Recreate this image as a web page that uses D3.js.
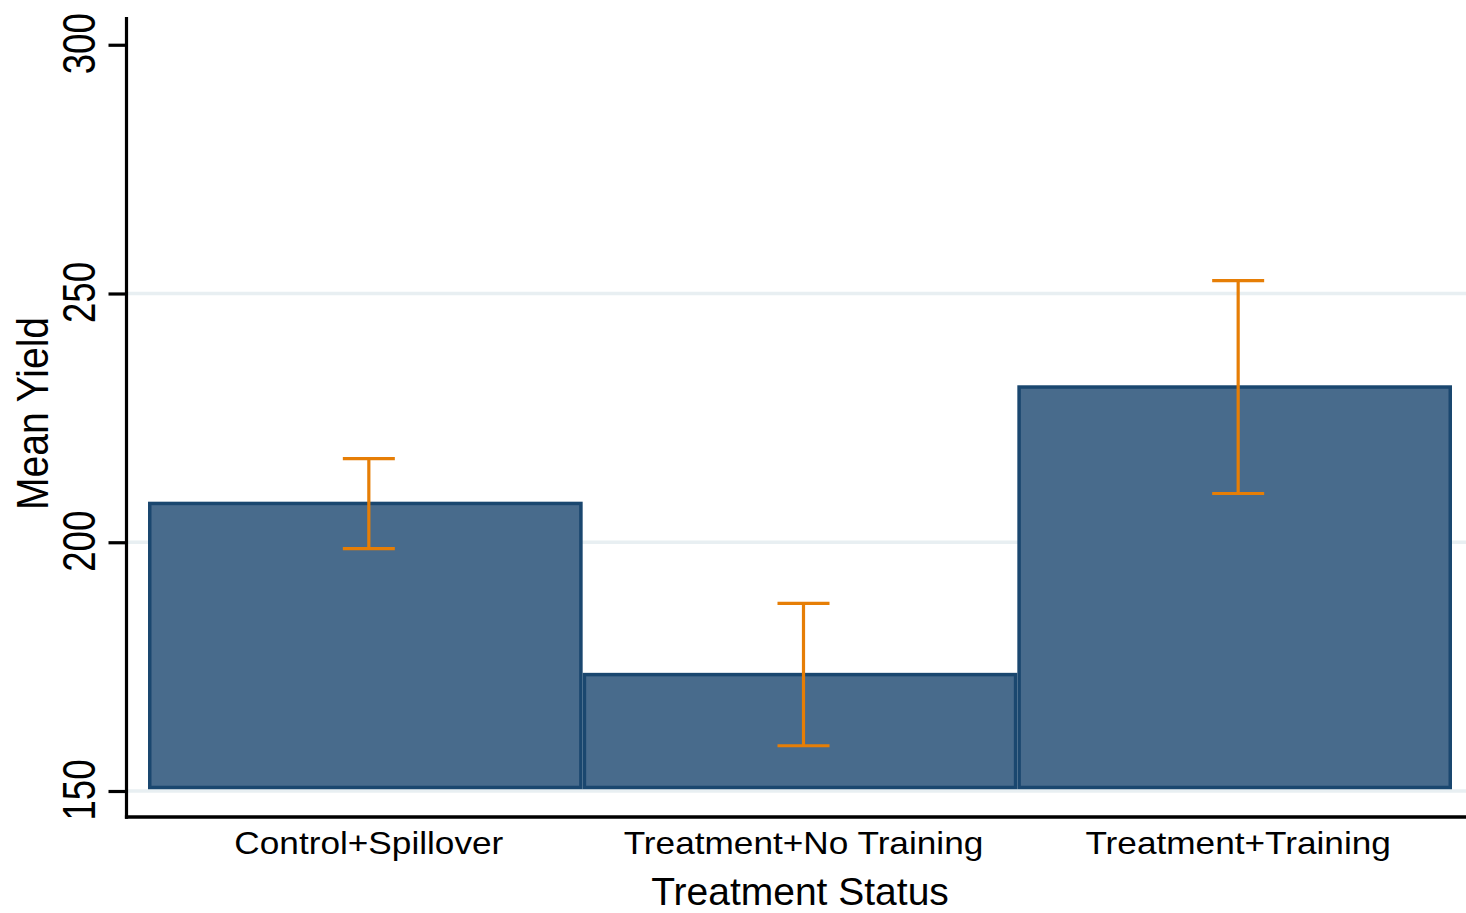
<!DOCTYPE html>
<html>
<head>
<meta charset="utf-8">
<script src="https://cdn.jsdelivr.net/npm/d3@7"></script>
<style>
  html, body { margin: 0; padding: 0; background: #ffffff; }
  svg { display: block; }
  text { font-family: "Liberation Sans", Arial, sans-serif; fill: #000; }
</style>
</head>
<body>
<svg id="chart" width="1466" height="913"></svg>
<script>
// ---- data ----
const categories = ["Control+Spillover", "Treatment+No Training", "Treatment+Training"];
const meanYield  = [207.8, 173.4, 231.2];
const ciLower    = [198.7, 159.1, 209.8];
const ciUpper    = [216.8, 187.7, 252.6];
const yTicks     = [150, 200, 250, 300];
const yGrid      = [150, 200, 250];
const yDomain    = [150, 300];
const xTitle     = "Treatment Status";
const yTitle     = "Mean Yield";

// ---- styles ----
const barFill = "#486b8c", barStroke = "#1a476f", errColor = "#e67e06", gridColor = "#e8eff2";

const svg = d3.select("#chart");
const W = 1466, H = 913;

const y = d3.scaleLinear().domain(yDomain).range([791, 44.75]);
const x = d3.scaleBand().domain(categories).range([148, 1452]).padding(0);
const bw = x.bandwidth();
const centerShift = 3.5;
const cx = c => x(c) + bw / 2 + centerShift;

const axisX = 126.5, axisBottom = 817, axisTop = 17;

// gridlines
svg.append("g").selectAll("line").data(yGrid).join("line")
  .attr("x1", axisX + 1.5).attr("x2", W)
  .attr("y1", d => y(d)).attr("y2", d => y(d))
  .attr("stroke", gridColor).attr("stroke-width", 3.5);

// bars
const data = categories.map((c, i) => ({ c, v: meanYield[i], lo: ciLower[i], hi: ciUpper[i] }));
const baseInset = 3.5;
svg.append("g").selectAll("rect").data(data).join("rect")
  .attr("x", d => x(d.c) + 1.75)
  .attr("width", bw - 3.5)
  .attr("y", d => y(d.v))
  .attr("height", d => (y(150) - baseInset) - y(d.v))
  .attr("fill", barFill)
  .attr("stroke", barStroke)
  .attr("stroke-width", 3.5);

// error bars
const capHalf = 26;
const eg = svg.append("g").attr("stroke", errColor).attr("stroke-width", 3.2).attr("fill", "none");
eg.selectAll("line.v").data(data).join("line").attr("class", "v")
  .attr("x1", d => cx(d.c)).attr("x2", d => cx(d.c))
  .attr("y1", d => y(d.hi)).attr("y2", d => y(d.lo));
eg.selectAll("line.top").data(data).join("line").attr("class", "top")
  .attr("x1", d => cx(d.c) - capHalf).attr("x2", d => cx(d.c) + capHalf)
  .attr("y1", d => y(d.hi)).attr("y2", d => y(d.hi));
eg.selectAll("line.bot").data(data).join("line").attr("class", "bot")
  .attr("x1", d => cx(d.c) - capHalf).attr("x2", d => cx(d.c) + capHalf)
  .attr("y1", d => y(d.lo)).attr("y2", d => y(d.lo));

// y axis (ticks via d3 axis)
const yAxis = d3.axisLeft(y).tickValues(yTicks).tickSize(18).tickFormat(d3.format("d"));
const ya = svg.append("g").attr("transform", `translate(${axisX},0)`).call(yAxis);
ya.select(".domain").remove();
ya.selectAll(".tick line").attr("stroke", "#000").attr("stroke-width", 3.2);
ya.selectAll(".tick text")
  .attr("x", null).attr("dy", null)
  .attr("transform", "translate(-31.5,-1.5) rotate(-90)")
  .attr("text-anchor", "middle")
  .attr("font-size", 47)
  .attr("fill", "#000")
  .attr("textLength", 61)
  .attr("lengthAdjust", "spacingAndGlyphs");

// axis lines
svg.append("line").attr("x1", axisX).attr("x2", axisX).attr("y1", axisTop).attr("y2", axisBottom + 1.75)
  .attr("stroke", "#000").attr("stroke-width", 3.2);
svg.append("line").attr("x1", axisX - 1.6).attr("x2", W).attr("y1", axisBottom).attr("y2", axisBottom)
  .attr("stroke", "#000").attr("stroke-width", 3.5);

// x category labels
const xl = svg.append("g").selectAll("text").data(categories).join("text")
  .attr("x", d => cx(d)).attr("y", 854)
  .attr("text-anchor", "middle")
  .attr("font-size", 32)
  .text(d => d);
xl.each(function() {
  const len = this.getComputedTextLength();
  d3.select(this).attr("textLength", len * 1.1).attr("lengthAdjust", "spacingAndGlyphs");
});

// axis titles
svg.append("text").attr("x", 800).attr("y", 905)
  .attr("text-anchor", "middle").attr("font-size", 39)
  .text(xTitle);

svg.append("text")
  .attr("transform", "translate(48,413.5) rotate(-90)")
  .attr("text-anchor", "middle").attr("font-size", 44)
  .attr("textLength", 193).attr("lengthAdjust", "spacingAndGlyphs")
  .text(yTitle);
</script>
</body>
</html>
